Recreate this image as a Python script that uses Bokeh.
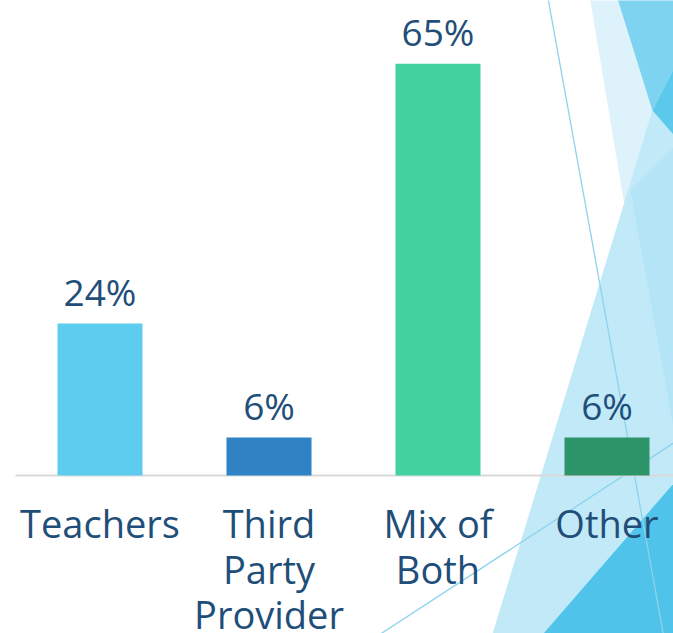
from bokeh.plotting import figure
from bokeh.models import Range1d, PolyAnnotation, ColumnDataSource
from bokeh.core.properties import value
from bokeh.embed import file_html
from bokeh.resources import INLINE

# ---- data -------------------------------------------------------------
categories = ["Teachers", "Third\nParty\nProvider", "Mix of\nBoth", "Other"]
shares = [24, 6, 65, 6]
share_labels = ["24%", "6%", "65%", "6%"]
bar_colors = ["#5ECCEF", "#2F82C3", "#43D1A0", "#2D9469"]

positions = list(range(len(categories)))
TEXT = "#1F4E79"

W, H = 673, 633
X_START, X_END = -0.5888, 3.3935
Y_START, Y_END = -24.94, 74.97

p = figure(width=W, height=H, output_backend="svg", toolbar_location=None,
           x_range=Range1d(X_START, X_END), y_range=Range1d(Y_START, Y_END),
           x_axis_location=None, y_axis_location=None, min_border=0)
p.grid.visible = False
p.outline_line_color = None
p.background_fill_color = "white"
p.border_fill_color = "white"

# ---- background decoration (theme triangles), in screen pixels ---------
def deco(points, color):
    xs = [X for X, Y in points]
    ys = [H - Y for X, Y in points]
    p.add_layout(PolyAnnotation(xs=xs, ys=ys, xs_units="screen", ys_units="screen",
                                fill_color=color, fill_alpha=1.0, line_color=None,
                                level="underlay"))

def deco_line(points, color, width=1.3):
    xs = [X for X, Y in points]
    ys = [H - Y for X, Y in points]
    p.add_layout(PolyAnnotation(xs=xs, ys=ys, xs_units="screen", ys_units="screen",
                                fill_alpha=0.0, line_color=color, line_alpha=1.0,
                                line_width=width, level="underlay"))

deco([(589, -5), (680, -5), (680, 210), (624, 205)], "#DDF2FB")
deco([(687, -5), (490, 640), (680, 640)], "#C1E9F8")
deco([(680, 140), (630, 190), (680, 465)], "#B3E5F6")
deco([(616, -5), (680, -5), (680, 55), (652, 110)], "#7ED3F1")
deco([(680, 55), (652, 110), (680, 142)], "#5BC8EC")
deco([(680, 475), (537, 640), (680, 640)], "#4FC3EA")
deco_line([(547, -5), (664, 640)], "#8DD3EE")
deco_line([(370, 640), (680, 438)], "#8DD3EE")

# ---- baseline ----------------------------------------------------------
p.segment(x0=-0.5, y0=0, x1=X_END, y1=0, line_color="#D9D9D9", line_width=2)

# ---- bars ----------------------------------------------------------------
src = ColumnDataSource(dict(x=positions, top=shares, color=bar_colors,
                            label=share_labels, cat=categories))
p.vbar(x="x", top="top", bottom=0, width=0.503, source=src,
       fill_color="color", line_color=None)

# value labels
p.text(x="x", y="top", text="label", source=src, text_align="center",
       text_baseline="alphabetic", y_offset=-32,
       text_font=value("Open Sans"), text_font_size="37px", text_color=TEXT)

# category labels
p.text(x="x", y=0, text="cat", source=src, text_align="center",
       text_baseline="top", y_offset=22, text_line_height=0.87,
       text_font=value("Open Sans"), text_font_size="38px", text_color=TEXT)

open("out.html", "w").write(file_html(p, INLINE))
